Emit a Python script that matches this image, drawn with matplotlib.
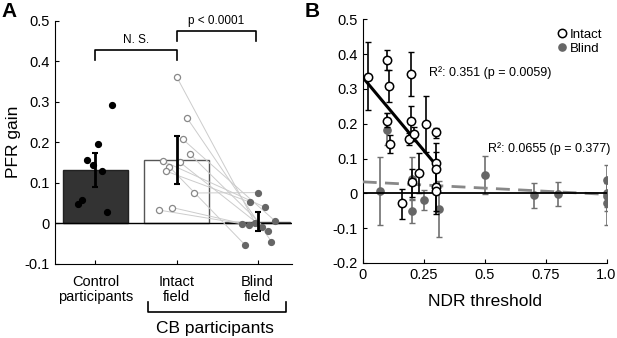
import matplotlib.pyplot as plt
import matplotlib.transforms as mtransforms
import numpy as np

plt.rcParams['font.family'] = ['Liberation Sans', 'DejaVu Sans']

# ---- Panel A data ----
groups = ['Control\nparticipants', 'Intact\nfield', 'Blind\nfield']
bar_means = [0.132, 0.157, 0.004]
bar_err_low = [0.090, 0.098, -0.019]
bar_err_high = [0.173, 0.215, 0.027]

control_x = [1.21, 1.03, 0.90, 0.965, 1.08, 0.84, 0.78, 1.14]
control_y = [0.291, 0.197, 0.157, 0.145, 0.129, 0.058, 0.048, 0.029]

intact_x = [2.00, 2.13, 2.08, 2.17, 1.83, 2.04, 1.91, 1.87, 2.21, 1.95, 1.78]
intact_y = [0.362, 0.260, 0.207, 0.170, 0.154, 0.151, 0.140, 0.129, 0.075, 0.039, 0.033]
blind_x = [2.97, 3.17, 3.21, 3.13, 3.09, 3.05, 2.84, 2.91, 3.00, 2.89, 2.81]
blind_y = [0.001, -0.045, 0.007, -0.019, 0.040, -0.008, -0.052, 0.052, 0.076, -0.004, -0.001]

# ---- Panel B data ----
ndr_intact = [0.022, 0.100, 0.108, 0.100, 0.111, 0.159, 0.197, 0.197, 0.190,
              0.209, 0.200, 0.230, 0.261, 0.299, 0.299, 0.299, 0.299, 0.299]
gain_intact = [0.335, 0.383, 0.309, 0.209, 0.142, -0.029, 0.343, 0.209, 0.156,
               0.171, 0.032, 0.057, 0.200, 0.175, 0.086, 0.070, 0.017, 0.008]
low_intact = [0.238, 0.355, 0.262, 0.190, 0.116, -0.074, 0.280, 0.160, 0.140,
              0.150, -0.010, 0.000, 0.120, 0.160, 0.030, 0.020, -0.060, -0.050]
high_intact = [0.434, 0.413, 0.353, 0.230, 0.167, 0.012, 0.405, 0.250, 0.172,
               0.190, 0.070, 0.117, 0.280, 0.188, 0.145, 0.120, 0.090, 0.060]

ndr_blind = [0.070, 0.100, 0.200, 0.200, 0.251, 0.313, 0.500, 0.702, 0.802,
             1.000, 1.000, 1.000, 1.000]
gain_blind = [0.008, 0.183, 0.041, -0.050, -0.018, -0.045, 0.053, -0.005, -0.002,
              0.039, 0.000, -0.009, -0.029]
low_blind = [-0.090, 0.140, -0.020, -0.085, -0.047, -0.125, -0.002, -0.041, -0.035,
             0.000, -0.040, -0.050, -0.090]
high_blind = [0.105, 0.230, 0.105, -0.015, 0.010, 0.035, 0.106, 0.030, 0.032,
              0.082, 0.040, 0.030, 0.030]

# regression fits (intercept, slope, x-range)
fit_intact = (0.333, -0.838, (0.0, 0.30))
fit_blind = (0.033, -0.036, (0.0, 1.0))

fig = plt.figure(figsize=(6.17, 3.38), dpi=100)
axA = fig.add_axes([0.089, 0.219, 0.385, 0.720])
axB = fig.add_axes([0.588, 0.222, 0.395, 0.721])

gray = '#666666'

# ---- Panel A ----
xpos = np.arange(1, 4)
axA.bar(xpos, bar_means, width=0.8,
        color=['#333333', 'white', '#555555'],
        edgecolor=['#222222', '#555555', '#555555'], linewidth=1, zorder=1)
axA.axhline(0, color='black', lw=1, zorder=2)
for ix, iy, bx, by in zip(intact_x, intact_y, blind_x, blind_y):
    axA.plot([ix, bx], [iy, by], color='#cccccc', lw=0.7, zorder=2)
axA.plot(control_x, control_y, 'o', color='black', ms=4.2, zorder=4)
axA.plot(intact_x, intact_y, 'o', mfc='white', mec='#888888', mew=0.9, ms=4.4, zorder=4)
axA.plot(blind_x, blind_y, 'o', color=gray, ms=4.2, zorder=4)
means = np.array(bar_means)
yerr = [means - np.array(bar_err_low), np.array(bar_err_high) - means]
axA.errorbar(xpos, means, yerr=yerr, fmt='none', ecolor='black',
             elinewidth=2, capsize=2, capthick=1.5, zorder=5)

axA.set_xlim(0.5, 3.43)
axA.set_ylim(-0.1, 0.5)
axA.set_yticks([-0.1, 0, 0.1, 0.2, 0.3, 0.4, 0.5])
axA.set_yticklabels(['-0.1', '0', '0.1', '0.2', '0.3', '0.4', '0.5'])
axA.set_xticks(xpos)
axA.set_xticklabels(groups, fontsize=10.5, linespacing=1.05)
axA.tick_params(axis='y', direction='in', length=3, labelsize=10.5)
axA.tick_params(axis='x', direction='in', length=3, pad=8)
axA.set_ylabel('PFR gain', fontsize=12.5, labelpad=3)
for s in ['top', 'right']:
    axA.spines[s].set_visible(False)

# significance brackets
axA.plot([1, 1, 2, 2], [0.402, 0.427, 0.427, 0.402], color='black', lw=1.2, clip_on=False)
axA.text(1.5, 0.437, 'N. S.', ha='center', va='bottom', fontsize=8.5)
axA.plot([2, 2, 2.98, 2.98], [0.449, 0.474, 0.474, 0.449], color='black', lw=1.2, clip_on=False)
axA.text(2.49, 0.484, 'p < 0.0001', ha='center', va='bottom', fontsize=8.5)

# CB participants bracket
trans = mtransforms.blended_transform_factory(axA.transData, fig.transFigure)
axA.plot([1.652, 1.652, 3.35, 3.35], [0.106, 0.076, 0.076, 0.106], color='black',
         lw=1.2, transform=trans, clip_on=False)
axA.text(2.47, 0.027, 'CB participants', ha='center', va='center', fontsize=12.5,
         transform=trans)

# ---- Panel B ----
gb = np.array(gain_blind)
axB.errorbar(ndr_blind, gb, yerr=[gb - np.array(low_blind), np.array(high_blind) - gb],
             fmt='none', ecolor='#707070', elinewidth=1.2, capsize=2, zorder=2)
axB.plot(ndr_blind, gain_blind, 'o', color=gray, ms=5.2, zorder=3, label='Blind')

x0, x1 = fit_blind[2]
axB.plot([x0, x1], [fit_blind[0] + fit_blind[1] * x0, fit_blind[0] + fit_blind[1] * x1],
         color='#888888', lw=2, ls=(0, (5, 3)), zorder=3)
axB.plot([0, 1], [0, 0], color='black', lw=1.3, zorder=3)

gi = np.array(gain_intact)
axB.errorbar(ndr_intact, gi, yerr=[gi - np.array(low_intact), np.array(high_intact) - gi],
             fmt='none', ecolor='black', elinewidth=1.2, capsize=2, zorder=4)
x0, x1 = fit_intact[2]
axB.plot([x0, x1], [fit_intact[0] + fit_intact[1] * x0, fit_intact[0] + fit_intact[1] * x1],
         color='black', lw=2.2, zorder=5)
axB.plot(ndr_intact, gain_intact, 'o', mfc='white', mec='black', mew=1.1, ms=6,
         zorder=6, label='Intact')

axB.text(0.272, 0.347, 'R²: 0.351 (p = 0.0059)', fontsize=9, va='center')
axB.text(0.514, 0.128, 'R²: 0.0655 (p = 0.377)', fontsize=9, va='center')

handles, labels = axB.get_legend_handles_labels()
axB.legend(handles[::-1], labels[::-1], loc='upper right', bbox_to_anchor=(1.02, 1.0),
           frameon=False, fontsize=9.5, handletextpad=0.05, handlelength=1,
           borderpad=0.2, labelspacing=0.15)

axB.set_xlim(0, 1)
axB.set_ylim(-0.2, 0.5)
axB.set_xticks([0, 0.25, 0.5, 0.75, 1.0])
axB.set_xticklabels(['0', '0.25', '0.5', '0.75', '1.0'])
axB.set_yticks([-0.2, -0.1, 0, 0.1, 0.2, 0.3, 0.4, 0.5])
axB.set_yticklabels(['-0.2', '-0.1', '0', '0.1', '0.2', '0.3', '0.4', '0.5'])
axB.tick_params(axis='both', direction='in', length=3, labelsize=10.5)
axB.set_xlabel('NDR threshold', fontsize=12.5, labelpad=9)
for s in ['top', 'right']:
    axB.spines[s].set_visible(False)

fig.text(0.003, 0.995, 'A', fontsize=15, fontweight='bold', va='top', ha='left')
fig.text(0.494, 0.995, 'B', fontsize=15, fontweight='bold', va='top', ha='left')

fig.savefig('out.png', dpi=100)
